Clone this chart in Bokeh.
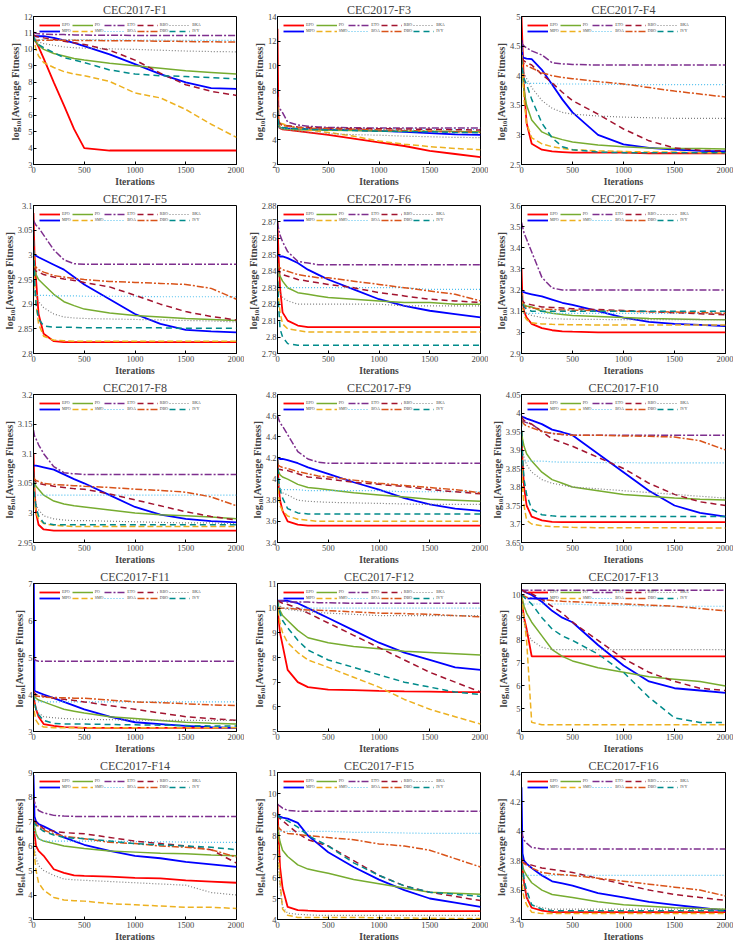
from bokeh.plotting import figure
from bokeh.layouts import gridplot
from bokeh.models import Range1d, FixedTicker, CustomJSTickFormatter, Legend, LegendItem
from bokeh.embed import file_html
from bokeh.resources import INLINE

ITER = [0, 10, 25, 50, 100, 200, 300, 400, 500, 750, 1000, 1250, 1500, 1750, 2000]
ALGOS = ["EPO", "MPO", "PO", "SMO", "ETO", "BOA", "RBO", "DBO", "BKA", "IVY"]

F1 = [
    [10.8, 10.65, 10.45, 10.15, 9.45, 8.0, 6.6, 5.15, 4.0, 3.85, 3.85, 3.85, 3.85, 3.85, 3.85],
    [10.8, 10.8, 10.8, 10.8, 10.8, 10.7, 10.55, 10.4, 10.2, 9.7, 9.1, 8.5, 8.0, 7.65, 7.6],
    [10.8, 10.65, 10.45, 10.25, 10.0, 9.75, 9.6, 9.45, 9.35, 9.15, 9.0, 8.85, 8.7, 8.6, 8.5],
    [10.8, 10.4, 10.0, 9.6, 9.2, 8.9, 8.65, 8.5, 8.4, 8.05, 7.35, 7.05, 6.35, 5.45, 4.65],
    [11.05, 11.0, 10.97, 10.95, 10.93, 10.9, 10.9, 10.88, 10.87, 10.86, 10.85, 10.85, 10.85, 10.85, 10.85],
    [10.75, 10.65, 10.62, 10.6, 10.6, 10.6, 10.6, 10.6, 10.6, 10.58, 10.57, 10.56, 10.55, 10.55, 10.55],
    [10.9, 10.85, 10.8, 10.75, 10.7, 10.6, 10.5, 10.4, 10.3, 9.95, 9.35, 8.55, 7.85, 7.45, 7.2],
    [10.6, 10.55, 10.55, 10.55, 10.55, 10.55, 10.55, 10.55, 10.54, 10.53, 10.52, 10.5, 10.48, 10.46, 10.45],
    [10.75, 10.65, 10.55, 10.45, 10.35, 10.25, 10.15, 10.1, 10.08, 10.03, 10.0, 9.95, 9.9, 9.87, 9.85],
    [10.8, 10.6, 10.45, 10.3, 10.1, 9.8, 9.5, 9.35, 9.2, 8.75, 8.5, 8.4, 8.35, 8.28, 8.2],
]
F3 = [
    [13.0, 5.2, 4.95, 4.85, 4.8, 4.7, 4.6, 4.5, 4.4, 4.1, 3.8, 3.5, 3.1, 2.85, 2.6],
    [6.0, 5.1, 5.0, 4.95, 4.9, 4.9, 4.88, 4.85, 4.82, 4.78, 4.72, 4.65, 4.55, 4.45, 4.4],
    [7.0, 5.2, 5.0, 4.9, 4.85, 4.82, 4.8, 4.8, 4.78, 4.75, 4.72, 4.7, 4.7, 4.68, 4.65],
    [7.5, 5.5, 5.35, 5.3, 5.15, 4.95, 4.8, 4.7, 4.6, 4.3, 3.9, 3.65, 3.45, 3.3, 3.2],
    [7.2, 6.7, 6.5, 6.2, 5.45, 5.2, 5.1, 5.05, 5.0, 4.98, 4.95, 4.95, 4.95, 4.95, 4.95],
    [6.0, 5.0, 4.95, 4.92, 4.9, 4.9, 4.9, 4.9, 4.9, 4.88, 4.87, 4.87, 4.86, 4.86, 4.85],
    [8.0, 5.6, 5.3, 5.2, 5.15, 5.05, 5.0, 4.98, 4.95, 4.92, 4.9, 4.88, 4.85, 4.82, 4.8],
    [7.0, 5.5, 5.25, 5.15, 5.1, 5.0, 4.95, 4.92, 4.9, 4.85, 4.8, 4.75, 4.7, 4.65, 4.6],
    [5.5, 5.0, 4.9, 4.85, 4.8, 4.7, 4.62, 4.55, 4.5, 4.42, 4.38, 4.3, 4.25, 4.2, 4.18],
    [6.5, 5.3, 5.1, 5.0, 4.95, 4.9, 4.85, 4.82, 4.8, 4.75, 4.7, 4.68, 4.65, 4.6, 4.58],
]
F4 = [
    [5.0, 4.5, 3.8, 3.2, 2.85, 2.75, 2.72, 2.71, 2.7, 2.7, 2.7, 2.69, 2.69, 2.69, 2.69],
    [4.6, 4.32, 4.3, 4.29, 4.28, 4.1, 3.85, 3.6, 3.38, 3.0, 2.84, 2.78, 2.75, 2.73, 2.72],
    [4.3, 4.0, 3.75, 3.5, 3.25, 3.05, 2.97, 2.92, 2.88, 2.83, 2.8, 2.78, 2.77, 2.77, 2.76],
    [4.5, 4.1, 3.6, 3.2, 2.95, 2.85, 2.8, 2.77, 2.75, 2.73, 2.72, 2.71, 2.71, 2.7, 2.7],
    [4.56, 4.53, 4.5, 4.47, 4.42, 4.35, 4.22, 4.2, 4.19, 4.18, 4.18, 4.18, 4.18, 4.18, 4.18],
    [3.95, 3.88, 3.87, 3.87, 3.87, 3.87, 3.86, 3.86, 3.86, 3.86, 3.85, 3.85, 3.85, 3.85, 3.85],
    [4.3, 4.28, 4.25, 4.22, 4.18, 4.02, 3.88, 3.72, 3.58, 3.35, 3.1, 2.9, 2.78, 2.74, 2.73],
    [4.3, 4.25, 4.2, 4.17, 4.13, 4.05, 4.0, 3.97, 3.95, 3.9, 3.86, 3.8, 3.74, 3.69, 3.64],
    [4.3, 4.15, 4.05, 3.95, 3.8, 3.58, 3.45, 3.38, 3.35, 3.32, 3.3, 3.29, 3.28, 3.28, 3.28],
    [4.3, 4.1, 3.95, 3.85, 3.6, 3.2, 2.95, 2.8, 2.75, 2.71, 2.7, 2.7, 2.7, 2.7, 2.7],
]
F5 = [
    [3.085, 3.0, 2.95, 2.88, 2.84, 2.825, 2.823, 2.823, 2.823, 2.823, 2.823, 2.823, 2.823, 2.823, 2.823],
    [3.0, 3.0, 2.998, 2.995, 2.99, 2.98, 2.97, 2.955, 2.94, 2.91, 2.88, 2.86, 2.848, 2.845, 2.843],
    [2.995, 2.975, 2.96, 2.95, 2.94, 2.92, 2.905, 2.897, 2.89, 2.882, 2.877, 2.874, 2.871, 2.869, 2.867],
    [3.0, 2.95, 2.9, 2.86, 2.835, 2.827, 2.826, 2.825, 2.825, 2.825, 2.825, 2.825, 2.825, 2.825, 2.825],
    [3.07, 3.065, 3.06, 3.055, 3.04, 3.01, 2.99, 2.982, 2.981, 2.981, 2.981, 2.981, 2.981, 2.981, 2.981],
    [2.925, 2.918, 2.918, 2.918, 2.918, 2.917, 2.917, 2.917, 2.916, 2.916, 2.916, 2.915, 2.915, 2.915, 2.915],
    [2.975, 2.97, 2.967, 2.965, 2.96, 2.955, 2.951, 2.948, 2.944, 2.935, 2.918, 2.9, 2.885, 2.875, 2.868],
    [2.985, 2.98, 2.975, 2.97, 2.965, 2.958, 2.955, 2.952, 2.95, 2.946, 2.944, 2.942, 2.94, 2.932, 2.91],
    [2.95, 2.93, 2.915, 2.905, 2.893, 2.88, 2.874, 2.872, 2.871, 2.87, 2.869, 2.868, 2.867, 2.866, 2.864],
    [3.05, 2.95, 2.9, 2.87, 2.856, 2.853, 2.853, 2.853, 2.852, 2.852, 2.852, 2.852, 2.851, 2.851, 2.851],
]
F6 = [
    [2.87, 2.85, 2.83, 2.815, 2.81, 2.807, 2.806, 2.806, 2.806, 2.806, 2.806, 2.806, 2.806, 2.806, 2.806],
    [2.85, 2.85, 2.849, 2.849, 2.848, 2.845, 2.841, 2.838, 2.835, 2.829, 2.823, 2.819, 2.816, 2.814, 2.812],
    [2.845, 2.84, 2.837, 2.834, 2.83, 2.827, 2.826, 2.825, 2.824, 2.823, 2.822, 2.821, 2.821, 2.82, 2.82],
    [2.84, 2.825, 2.815, 2.808, 2.805, 2.804, 2.803, 2.803, 2.803, 2.803, 2.803, 2.803, 2.803, 2.803, 2.803],
    [2.87, 2.866, 2.862, 2.858, 2.852, 2.846, 2.845, 2.844, 2.844, 2.844, 2.844, 2.844, 2.844, 2.844, 2.844],
    [2.832, 2.83, 2.83, 2.83, 2.83, 2.83, 2.83, 2.83, 2.83, 2.83, 2.83, 2.83, 2.829, 2.829, 2.829],
    [2.842, 2.84, 2.839, 2.838, 2.837, 2.835, 2.834, 2.833, 2.832, 2.83, 2.827, 2.825, 2.823, 2.822, 2.821],
    [2.845, 2.843, 2.842, 2.841, 2.84, 2.838, 2.837, 2.836, 2.836, 2.834, 2.832, 2.83, 2.828, 2.826, 2.822],
    [2.835, 2.83, 2.827, 2.824, 2.822, 2.82, 2.82, 2.82, 2.82, 2.82, 2.82, 2.819, 2.819, 2.819, 2.819],
    [2.84, 2.82, 2.805, 2.8, 2.796, 2.795, 2.795, 2.795, 2.795, 2.795, 2.795, 2.795, 2.795, 2.795, 2.795],
]
F7 = [
    [3.3, 3.15, 3.1, 3.07, 3.04, 3.02, 3.01, 3.005, 3.003, 3.0, 3.0, 3.0, 3.0, 3.0, 3.0],
    [3.2, 3.19, 3.19, 3.185, 3.18, 3.17, 3.155, 3.14, 3.13, 3.1, 3.07, 3.05, 3.04, 3.035, 3.03],
    [3.15, 3.14, 3.13, 3.125, 3.12, 3.1, 3.09, 3.085, 3.08, 3.075, 3.07, 3.065, 3.063, 3.061, 3.06],
    [3.2, 3.12, 3.08, 3.06, 3.045, 3.04, 3.038, 3.037, 3.036, 3.035, 3.035, 3.035, 3.035, 3.035, 3.035],
    [3.52, 3.5, 3.47, 3.44, 3.38, 3.26, 3.21, 3.2, 3.2, 3.2, 3.2, 3.2, 3.2, 3.2, 3.2],
    [3.1, 3.09, 3.09, 3.09, 3.09, 3.09, 3.09, 3.09, 3.09, 3.09, 3.09, 3.09, 3.09, 3.09, 3.09],
    [3.16, 3.15, 3.14, 3.135, 3.13, 3.12, 3.118, 3.115, 3.112, 3.108, 3.103, 3.098, 3.093, 3.088, 3.083],
    [3.14, 3.13, 3.125, 3.12, 3.115, 3.11, 3.108, 3.106, 3.105, 3.103, 3.1, 3.098, 3.096, 3.094, 3.09],
    [3.13, 3.11, 3.1, 3.09, 3.08, 3.07, 3.065, 3.063, 3.062, 3.061, 3.06, 3.06, 3.06, 3.06, 3.06],
    [3.18, 3.14, 3.12, 3.11, 3.1, 3.1, 3.1, 3.1, 3.1, 3.1, 3.1, 3.1, 3.1, 3.1, 3.1],
]
F8 = [
    [3.1, 3.04, 3.0, 2.98, 2.972, 2.97, 2.97, 2.97, 2.97, 2.97, 2.97, 2.97, 2.97, 2.97, 2.97],
    [3.08, 3.08, 3.08, 3.079, 3.077, 3.073, 3.065, 3.057, 3.05, 3.03, 3.01, 2.997, 2.99, 2.986, 2.984],
    [3.06, 3.05, 3.045, 3.04, 3.03, 3.02, 3.015, 3.012, 3.01, 3.005, 3.0, 2.997, 2.995, 2.993, 2.99],
    [3.06, 3.02, 3.0, 2.99, 2.982, 2.979, 2.978, 2.977, 2.977, 2.977, 2.977, 2.977, 2.977, 2.977, 2.977],
    [3.14, 3.13, 3.125, 3.115, 3.1, 3.078, 3.068, 3.066, 3.065, 3.065, 3.065, 3.065, 3.065, 3.065, 3.065],
    [3.035, 3.03, 3.03, 3.03, 3.03, 3.03, 3.03, 3.03, 3.03, 3.03, 3.03, 3.03, 3.03, 3.03, 3.03],
    [3.06, 3.055, 3.052, 3.05, 3.048, 3.045, 3.043, 3.041, 3.04, 3.032, 3.022, 3.012, 3.002, 2.994, 2.988],
    [3.06, 3.057, 3.055, 3.053, 3.05, 3.048, 3.047, 3.046, 3.045, 3.043, 3.04, 3.038, 3.035, 3.027, 3.012],
    [3.05, 3.03, 3.015, 3.005, 2.995, 2.99, 2.988, 2.987, 2.987, 2.986, 2.985, 2.984, 2.983, 2.983, 2.982],
    [3.07, 3.03, 3.01, 2.995, 2.983, 2.98, 2.98, 2.98, 2.98, 2.98, 2.98, 2.98, 2.98, 2.98, 2.98],
]
F9 = [
    [4.2, 3.95, 3.8, 3.7, 3.6, 3.57, 3.56, 3.56, 3.56, 3.56, 3.56, 3.56, 3.56, 3.56, 3.56],
    [4.2, 4.2, 4.19, 4.19, 4.18, 4.15, 4.11, 4.08, 4.05, 3.97, 3.9, 3.82, 3.76, 3.72, 3.7],
    [4.1, 4.07, 4.04, 4.02, 4.0, 3.95, 3.92, 3.91, 3.9, 3.87, 3.85, 3.83, 3.81, 3.8, 3.79],
    [4.0, 3.85, 3.75, 3.7, 3.65, 3.62, 3.61, 3.6, 3.6, 3.6, 3.6, 3.6, 3.6, 3.6, 3.6],
    [4.6, 4.57, 4.53, 4.5, 4.42, 4.26, 4.19, 4.16, 4.15, 4.15, 4.15, 4.15, 4.15, 4.15, 4.15],
    [4.0, 3.92, 3.9, 3.9, 3.9, 3.9, 3.89, 3.89, 3.89, 3.89, 3.89, 3.88, 3.88, 3.88, 3.88],
    [4.1, 4.09, 4.09, 4.085, 4.08, 4.05, 4.02, 4.01, 4.0, 3.97, 3.95, 3.93, 3.9, 3.88, 3.86],
    [4.15, 4.13, 4.12, 4.11, 4.1, 4.07, 4.05, 4.03, 4.02, 3.99, 3.96, 3.94, 3.92, 3.9, 3.87],
    [4.0, 3.95, 3.9, 3.87, 3.85, 3.8, 3.79, 3.785, 3.78, 3.775, 3.77, 3.765, 3.76, 3.76, 3.76],
    [4.2, 4.0, 3.9, 3.82, 3.72, 3.68, 3.67, 3.67, 3.67, 3.67, 3.67, 3.67, 3.67, 3.67, 3.67],
]
F10 = [
    [3.95, 3.87, 3.8, 3.75, 3.72, 3.71, 3.706, 3.705, 3.705, 3.705, 3.705, 3.705, 3.705, 3.705, 3.705],
    [3.99, 3.99, 3.988, 3.985, 3.98, 3.97, 3.955, 3.948, 3.94, 3.89, 3.84, 3.79, 3.75, 3.73, 3.72],
    [3.95, 3.93, 3.91, 3.89, 3.87, 3.84, 3.82, 3.81, 3.8, 3.79, 3.78, 3.775, 3.77, 3.767, 3.765],
    [3.9, 3.8, 3.75, 3.71, 3.7, 3.695, 3.693, 3.692, 3.691, 3.69, 3.69, 3.69, 3.69, 3.689, 3.689],
    [3.98, 3.978, 3.976, 3.974, 3.97, 3.95, 3.945, 3.942, 3.94, 3.94, 3.94, 3.94, 3.94, 3.94, 3.94],
    [3.88, 3.87, 3.87, 3.87, 3.87, 3.87, 3.868, 3.867, 3.867, 3.866, 3.866, 3.865, 3.865, 3.865, 3.865],
    [3.99, 3.985, 3.98, 3.975, 3.97, 3.95, 3.93, 3.92, 3.91, 3.88, 3.85, 3.81, 3.78, 3.76, 3.75],
    [3.98, 3.975, 3.97, 3.965, 3.96, 3.95, 3.945, 3.942, 3.94, 3.94, 3.938, 3.937, 3.935, 3.925, 3.9],
    [3.93, 3.9, 3.88, 3.86, 3.84, 3.82, 3.81, 3.805, 3.8, 3.795, 3.79, 3.785, 3.78, 3.775, 3.77],
    [3.98, 3.88, 3.82, 3.78, 3.74, 3.725, 3.722, 3.72, 3.72, 3.72, 3.72, 3.72, 3.72, 3.72, 3.72],
]
F11 = [
    [4.0, 3.8, 3.6, 3.4, 3.2, 3.15, 3.12, 3.11, 3.1, 3.1, 3.1, 3.1, 3.1, 3.1, 3.1],
    [8.5, 4.1, 4.08, 4.05, 4.0, 3.9, 3.8, 3.7, 3.6, 3.4, 3.25, 3.2, 3.15, 3.12, 3.1],
    [4.0, 3.95, 3.9, 3.85, 3.8, 3.7, 3.6, 3.55, 3.5, 3.4, 3.35, 3.3, 3.25, 3.22, 3.2],
    [3.8, 3.5, 3.3, 3.2, 3.12, 3.1, 3.1, 3.1, 3.1, 3.1, 3.1, 3.1, 3.1, 3.1, 3.1],
    [5.0, 4.95, 4.92, 4.9, 4.9, 4.9, 4.9, 4.9, 4.9, 4.9, 4.9, 4.9, 4.9, 4.9, 4.9],
    [3.9, 3.85, 3.82, 3.8, 3.8, 3.8, 3.8, 3.8, 3.8, 3.8, 3.8, 3.8, 3.8, 3.8, 3.8],
    [4.1, 4.05, 4.0, 3.98, 3.95, 3.9, 3.87, 3.84, 3.8, 3.7, 3.6, 3.5, 3.4, 3.35, 3.3],
    [4.0, 3.98, 3.96, 3.95, 3.93, 3.92, 3.91, 3.9, 3.9, 3.85, 3.8, 3.78, 3.75, 3.72, 3.7],
    [3.8, 3.7, 3.6, 3.5, 3.4, 3.37, 3.35, 3.34, 3.33, 3.32, 3.31, 3.3, 3.3, 3.3, 3.3],
    [4.0, 3.8, 3.6, 3.45, 3.3, 3.22, 3.2, 3.2, 3.2, 3.19, 3.18, 3.17, 3.16, 3.15, 3.15],
]
F12 = [
    [10.3, 9.6, 9.0, 8.5, 7.5, 7.0, 6.8, 6.75, 6.7, 6.68, 6.65, 6.63, 6.62, 6.6, 6.6],
    [10.3, 10.3, 10.3, 10.3, 10.3, 10.2, 10.0, 9.8, 9.6, 9.1, 8.6, 8.2, 7.9, 7.6, 7.5],
    [10.3, 10.1, 9.9, 9.7, 9.5, 9.1, 8.8, 8.7, 8.6, 8.45, 8.35, 8.25, 8.2, 8.15, 8.1],
    [10.3, 9.8, 9.4, 9.0, 8.6, 8.2, 7.9, 7.75, 7.6, 7.2, 6.8, 6.3, 5.9, 5.6, 5.3],
    [10.3, 10.3, 10.3, 10.3, 10.25, 10.25, 10.25, 10.22, 10.22, 10.2, 10.2, 10.2, 10.2, 10.2, 10.2],
    [10.0, 10.0, 10.0, 10.0, 10.0, 10.0, 10.0, 10.0, 10.0, 10.0, 10.0, 10.0, 10.0, 10.0, 10.0],
    [10.3, 10.28, 10.25, 10.2, 10.15, 10.0, 9.8, 9.6, 9.4, 8.9, 8.4, 7.9, 7.4, 7.0, 6.6],
    [10.0, 10.0, 10.0, 10.0, 10.0, 9.95, 9.93, 9.92, 9.9, 9.85, 9.8, 9.78, 9.75, 9.7, 9.65],
    [10.3, 10.2, 10.1, 10.0, 9.95, 9.9, 9.85, 9.82, 9.8, 9.75, 9.7, 9.7, 9.7, 9.7, 9.7],
    [10.3, 10.0, 9.8, 9.5, 9.2, 8.7, 8.3, 8.1, 7.9, 7.6, 7.3, 7.0, 6.8, 6.6, 6.5],
]
F13 = [
    [10.0, 9.5, 9.0, 8.5, 7.3, 7.3, 7.3, 7.3, 7.3, 7.3, 7.3, 7.3, 7.3, 7.3, 7.3],
    [10.2, 10.2, 10.15, 10.1, 10.0, 9.7, 9.3, 9.0, 8.8, 7.8, 6.9, 6.2, 5.9, 5.8, 5.7],
    [10.0, 9.8, 9.5, 9.2, 8.8, 8.2, 7.6, 7.3, 7.1, 6.8, 6.6, 6.4, 6.3, 6.2, 6.0],
    [10.0, 9.5, 9.0, 8.0, 4.4, 4.3, 4.3, 4.3, 4.3, 4.3, 4.3, 4.3, 4.3, 4.3, 4.3],
    [10.2, 10.2, 10.2, 10.2, 10.2, 10.2, 10.2, 10.2, 10.2, 10.2, 10.2, 10.2, 10.2, 10.2, 10.2],
    [9.6, 9.6, 9.6, 9.6, 9.6, 9.6, 9.6, 9.6, 9.6, 9.55, 9.55, 9.5, 9.5, 9.5, 9.5],
    [10.2, 10.2, 10.15, 10.1, 10.05, 9.8, 9.5, 9.2, 8.8, 8.0, 7.2, 6.6, 6.2, 5.9, 5.8],
    [10.0, 10.0, 9.95, 9.9, 9.85, 9.8, 9.75, 9.72, 9.7, 9.65, 9.6, 9.55, 9.5, 9.4, 9.3],
    [9.5, 9.2, 8.8, 8.4, 8.0, 7.7, 7.6, 7.6, 7.6, 7.6, 7.6, 7.6, 7.6, 7.6, 7.6],
    [10.0, 9.95, 9.9, 9.8, 9.6, 9.0, 8.5, 8.2, 8.0, 7.4, 6.6, 5.5, 4.6, 4.4, 4.4],
]
F14 = [
    [7.0, 6.5, 6.0, 5.8, 5.6, 5.05, 4.9, 4.8, 4.78, 4.75, 4.7, 4.68, 4.6, 4.55, 4.5],
    [8.9, 7.2, 7.0, 6.9, 6.8, 6.6, 6.35, 6.2, 6.05, 5.8, 5.6, 5.5, 5.35, 5.25, 5.15],
    [7.0, 6.8, 6.5, 6.3, 6.2, 6.1, 6.0, 5.95, 5.9, 5.8, 5.75, 5.7, 5.68, 5.63, 5.6],
    [6.2, 5.6, 5.0, 4.5, 4.2, 3.9, 3.8, 3.77, 3.75, 3.65, 3.6, 3.55, 3.5, 3.5, 3.45],
    [8.0, 7.8, 7.6, 7.45, 7.35, 7.25, 7.22, 7.21, 7.2, 7.2, 7.2, 7.2, 7.2, 7.2, 7.2],
    [6.9, 6.6, 6.4, 6.3, 6.2, 6.2, 6.2, 6.2, 6.2, 6.2, 6.18, 6.17, 6.16, 6.15, 6.15],
    [7.1, 7.0, 6.95, 6.9, 6.7, 6.6, 6.55, 6.52, 6.5, 6.35, 6.2, 6.1, 6.0, 5.85, 5.3],
    [7.0, 6.95, 6.9, 6.8, 6.65, 6.5, 6.4, 6.35, 6.3, 6.15, 6.1, 6.0, 5.95, 5.85, 5.55],
    [6.5, 6.0, 5.5, 5.2, 5.0, 4.8, 4.65, 4.62, 4.6, 4.55, 4.5, 4.45, 4.4, 4.1, 4.0],
    [7.0, 6.9, 6.85, 6.75, 6.6, 6.45, 6.35, 6.32, 6.3, 6.2, 6.1, 6.05, 6.0, 5.95, 5.85],
]
F15 = [
    [9.5, 8.0, 6.5, 5.5, 4.6, 4.45, 4.42, 4.4, 4.4, 4.4, 4.4, 4.4, 4.4, 4.4, 4.4],
    [9.0, 8.95, 8.9, 8.85, 8.8, 8.6, 8.0, 7.6, 7.2, 6.5, 5.9, 5.4, 5.0, 4.8, 4.6],
    [8.5, 8.1, 7.7, 7.3, 7.0, 6.6, 6.4, 6.3, 6.2, 5.9, 5.7, 5.5, 5.3, 5.25, 5.2],
    [8.0, 7.0, 5.8, 4.5, 4.2, 4.1, 4.1, 4.1, 4.1, 4.1, 4.08, 4.07, 4.06, 4.05, 4.05],
    [9.5, 9.45, 9.4, 9.3, 9.2, 9.15, 9.15, 9.15, 9.15, 9.15, 9.15, 9.15, 9.15, 9.15, 9.15],
    [8.2, 8.2, 8.2, 8.2, 8.2, 8.2, 8.2, 8.2, 8.2, 8.15, 8.15, 8.12, 8.1, 8.1, 8.1],
    [9.0, 8.9, 8.8, 8.7, 8.5, 8.1, 7.8, 7.65, 7.5, 6.8, 6.1, 5.6, 5.3, 5.1, 4.9],
    [8.5, 8.4, 8.3, 8.2, 8.1, 8.05, 8.0, 7.95, 7.9, 7.8, 7.6, 7.5, 7.3, 6.9, 6.5],
    [8.0, 6.5, 5.5, 4.6, 4.3, 4.25, 4.22, 4.2, 4.2, 4.2, 4.2, 4.2, 4.2, 4.2, 4.2],
    [9.0, 8.9, 8.85, 8.8, 8.7, 8.4, 8.0, 7.75, 7.5, 6.7, 6.1, 5.6, 5.3, 5.2, 5.1],
]
F16 = [
    [3.9, 3.75, 3.65, 3.55, 3.48, 3.46, 3.45, 3.45, 3.45, 3.45, 3.45, 3.45, 3.45, 3.45, 3.45],
    [4.3, 3.85, 3.8, 3.78, 3.75, 3.7, 3.66, 3.645, 3.63, 3.58, 3.55, 3.52, 3.5, 3.48, 3.46],
    [3.8, 3.76, 3.73, 3.7, 3.65, 3.6, 3.57, 3.56, 3.55, 3.52, 3.5, 3.49, 3.48, 3.475, 3.47],
    [3.7, 3.6, 3.55, 3.5, 3.45, 3.44, 3.44, 3.44, 3.44, 3.44, 3.44, 3.44, 3.44, 3.44, 3.44],
    [4.0, 3.97, 3.94, 3.92, 3.89, 3.88, 3.88, 3.88, 3.88, 3.88, 3.88, 3.88, 3.88, 3.88, 3.88],
    [3.7, 3.7, 3.7, 3.7, 3.7, 3.7, 3.7, 3.7, 3.7, 3.7, 3.7, 3.7, 3.7, 3.7, 3.7],
    [3.8, 3.79, 3.785, 3.78, 3.77, 3.75, 3.74, 3.73, 3.72, 3.68, 3.64, 3.6, 3.57, 3.55, 3.53],
    [3.8, 3.79, 3.78, 3.77, 3.75, 3.72, 3.71, 3.705, 3.7, 3.68, 3.66, 3.64, 3.62, 3.6, 3.56],
    [3.8, 3.7, 3.62, 3.55, 3.5, 3.48, 3.47, 3.47, 3.47, 3.47, 3.47, 3.47, 3.47, 3.47, 3.47],
    [3.85, 3.75, 3.67, 3.6, 3.5, 3.47, 3.46, 3.46, 3.46, 3.46, 3.46, 3.46, 3.46, 3.46, 3.46],
]

TITLES = ["CEC2017-F1", "CEC2017-F3", "CEC2017-F4", "CEC2017-F5", "CEC2017-F6",
          "CEC2017-F7", "CEC2017-F8", "CEC2017-F9", "CEC2017-F10", "CEC2017-F11",
          "CEC2017-F12", "CEC2017-F13", "CEC2017-F14", "CEC2017-F15", "CEC2017-F16"]
SERIES = [F1, F3, F4, F5, F6, F7, F8, F9, F10, F11, F12, F13, F14, F15, F16]
YLIMS = [(3, 12, 1), (2, 14, 2), (2.5, 5, 0.5), (2.8, 3.1, 0.05), (2.79, 2.88, 0.01),
         (2.9, 3.6, 0.1), (2.95, 3.2, 0.05), (3.4, 4.8, 0.2), (3.65, 4.05, 0.05), (3, 7, 1),
         (5, 11, 1), (4, 10.5, 1), (3, 9, 1), (4, 11, 1), (3.4, 4.4, 0.2)]
XTICKS = [0, 500, 1000, 1500, 2000]

COLORS = ["#ff0000", "#0000ff", "#77ac30", "#edb120", "#7e2f8e",
          "#4dbeee", "#a2142f", "#d95319", "#7f7f7f", "#008b8b"]
DASHES = ["solid", "solid", "solid", "6 3", "7 2 2 2",
          "1 2", "6 4", "7 2 2 2", "1 2", "6 4"]
WIDTHS = [1.8, 1.8, 1.5, 1.5, 1.5, 1.2, 1.5, 1.5, 1.2, 1.5]

FONT = "Liberation Serif"
WIDTH_COLS = [244, 244, 245]
HEIGHT_ROWS = [189, 189, 189, 189, 188]

fmt = CustomJSTickFormatter(code="return String(Math.round(tick*1000)/1000);")


def make_panel(k, w, h):
    y0, y1, st = YLIMS[k]
    p = figure(width=w, height=h, output_backend="svg", toolbar_location=None,
               x_range=Range1d(0, 2000), y_range=Range1d(y0, y1),
               min_border_left=28, min_border_right=8, min_border_top=2,
               min_border_bottom=2)
    p.title.text = TITLES[k]
    p.title.text_font = FONT
    p.title.text_font_size = "12px"
    p.title.text_font_style = "normal"
    p.title.align = "center"
    p.title.standoff = 0
    p.grid.visible = False
    p.outline_line_color = "black"
    p.outline_line_alpha = 1
    p.background_fill_color = "white"
    n = int(round((y1 - y0) / st))
    yt = [round(y0 + i * st, 4) for i in range(n + 1)]
    p.yaxis.ticker = FixedTicker(ticks=yt)
    p.xaxis.ticker = FixedTicker(ticks=XTICKS)
    p.yaxis.formatter = fmt
    for ax in (p.xaxis, p.yaxis):
        ax.major_tick_in = 3
        ax.major_tick_out = 0
        ax.minor_tick_line_color = None
        ax.axis_line_color = "black"
        ax.major_label_text_font = FONT
        ax.major_label_text_font_size = "8.5px"
        ax.major_label_standoff = 1
        ax.axis_label_text_font = FONT
        ax.axis_label_text_font_style = "bold"
        ax.axis_label_standoff = 0
    p.xaxis.major_label_standoff = 2
    p.xaxis.axis_label_standoff = 1
    p.xaxis.axis_label_text_font_size = "9.5px"
    p.yaxis.axis_label_text_font_size = "10.5px"
    p.xaxis.axis_label = "Iterations"
    p.yaxis.axis_label = "log\u2081\u2080[Average  Fitness]"
    data = SERIES[k]
    items = []
    for i, name in enumerate(ALGOS):
        r = p.line(ITER, data[i], line_color=COLORS[i], line_dash=DASHES[i],
                   line_width=WIDTHS[i])
        items.append(LegendItem(label=name, renderers=[r]))
    leg = Legend(items=items, location="top_left", orientation="vertical", nrows=2,
                 label_text_font=FONT, label_text_font_size="4px",
                 glyph_width=21, glyph_height=4, label_height=4, label_width=8,
                 label_standoff=2, spacing=1, padding=0, margin=6,
                 border_line_alpha=0, background_fill_alpha=0)
    p.add_layout(leg)
    return p


rows = []
k = 0
for r in range(5):
    row = []
    for c in range(3):
        row.append(make_panel(k, WIDTH_COLS[c], HEIGHT_ROWS[r]))
        k += 1
    rows.append(row)

grid = gridplot(rows, toolbar_location=None)
open("out.html", "w").write(file_html(grid, INLINE))
